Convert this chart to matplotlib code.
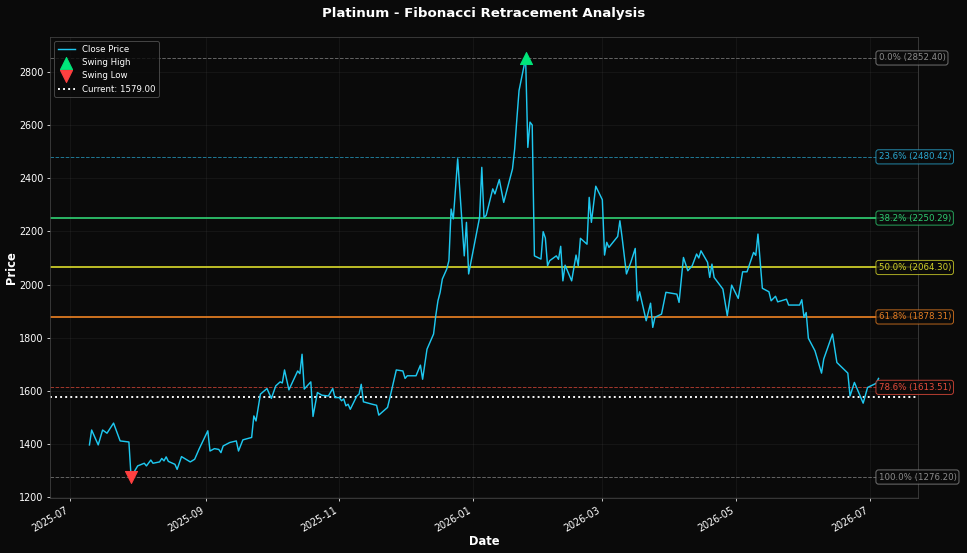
import matplotlib.pyplot as plt
import matplotlib.dates as mdates
import pandas as pd

# price path (vertices only)
dates = [
    "2025-07-10", "2025-07-11", "2025-07-14", "2025-07-16", "2025-07-18", "2025-07-21",
    "2025-07-24", "2025-07-28", "2025-07-29", "2025-08-01", "2025-08-04", "2025-08-05",
    "2025-08-07", "2025-08-08", "2025-08-11", "2025-08-12", "2025-08-13", "2025-08-14",
    "2025-08-15", "2025-08-18", "2025-08-19", "2025-08-21", "2025-08-22", "2025-08-25",
    "2025-08-27", "2025-08-29", "2025-09-02", "2025-09-03", "2025-09-05", "2025-09-07",
    "2025-09-08", "2025-09-09", "2025-09-12", "2025-09-15", "2025-09-16", "2025-09-18",
    "2025-09-22", "2025-09-23", "2025-09-24", "2025-09-26", "2025-09-29", "2025-10-01",
    "2025-10-03", "2025-10-05", "2025-10-06", "2025-10-07", "2025-10-09", "2025-10-12",
    "2025-10-13", "2025-10-14", "2025-10-15", "2025-10-16", "2025-10-19", "2025-10-20",
    "2025-10-22", "2025-10-24", "2025-10-27", "2025-10-29", "2025-10-30", "2025-11-01",
    "2025-11-02", "2025-11-03", "2025-11-04", "2025-11-05", "2025-11-06", "2025-11-09",
    "2025-11-10", "2025-11-11", "2025-11-12", "2025-11-16", "2025-11-18", "2025-11-19",
    "2025-11-23", "2025-11-24", "2025-11-27", "2025-11-30", "2025-12-01", "2025-12-02",
    "2025-12-06", "2025-12-08", "2025-12-09", "2025-12-11", "2025-12-14", "2025-12-15",
    "2025-12-16", "2025-12-17", "2025-12-18", "2025-12-20", "2025-12-21", "2025-12-22",
    "2025-12-23", "2025-12-25", "2025-12-28", "2025-12-29", "2025-12-30", "2026-01-04",
    "2026-01-05", "2026-01-06", "2026-01-07", "2026-01-10", "2026-01-11", "2026-01-13",
    "2026-01-15", "2026-01-19", "2026-01-20", "2026-01-21", "2026-01-22", "2026-01-25",
    "2026-01-26", "2026-01-27", "2026-01-28", "2026-01-29", "2026-02-01", "2026-02-02",
    "2026-02-03", "2026-02-04", "2026-02-05", "2026-02-08", "2026-02-09", "2026-02-10",
    "2026-02-11", "2026-02-12", "2026-02-15", "2026-02-17", "2026-02-18", "2026-02-19",
    "2026-02-22", "2026-02-23", "2026-02-24", "2026-02-26", "2026-03-01", "2026-03-02",
    "2026-03-03", "2026-03-04", "2026-03-08", "2026-03-09", "2026-03-10", "2026-03-12",
    "2026-03-14", "2026-03-16", "2026-03-17", "2026-03-18", "2026-03-21", "2026-03-23",
    "2026-03-24", "2026-03-25", "2026-03-28", "2026-03-30", "2026-04-04", "2026-04-05",
    "2026-04-07", "2026-04-09", "2026-04-11", "2026-04-13", "2026-04-14", "2026-04-15",
    "2026-04-18", "2026-04-19", "2026-04-20", "2026-04-21", "2026-04-25", "2026-04-27",
    "2026-04-29", "2026-05-02", "2026-05-04", "2026-05-06", "2026-05-09", "2026-05-10",
    "2026-05-11", "2026-05-13", "2026-05-16", "2026-05-17", "2026-05-19", "2026-05-20",
    "2026-05-24", "2026-05-25", "2026-05-30", "2026-05-31", "2026-06-01", "2026-06-02",
    "2026-06-03", "2026-06-06", "2026-06-09", "2026-06-10", "2026-06-14", "2026-06-16",
    "2026-06-21", "2026-06-22", "2026-06-24", "2026-06-28", "2026-06-30", "2026-07-04",
    "2026-07-05",
]
close = [
    1397, 1453, 1397, 1453, 1441, 1479,
    1412, 1408, 1276.2, 1318, 1328, 1318,
    1340, 1328, 1333, 1346, 1337, 1352,
    1335, 1324, 1305, 1353, 1348, 1333,
    1343, 1381, 1450, 1374, 1383, 1380,
    1368, 1393, 1406, 1412, 1374, 1416,
    1425, 1506, 1487, 1588, 1609, 1572,
    1619, 1634, 1630, 1679, 1604, 1657,
    1675, 1665, 1738, 1607, 1634, 1504,
    1594, 1584, 1581, 1609, 1575, 1575,
    1563, 1570, 1544, 1550, 1531, 1581,
    1588, 1625, 1559, 1550, 1546, 1509,
    1538, 1572, 1679, 1675, 1647, 1657,
    1657, 1697, 1644, 1757, 1814, 1883,
    1939, 1971, 2021, 2058, 2090, 2284,
    2247, 2473, 2108, 2234, 2040, 2253,
    2441, 2253, 2260, 2360, 2341, 2395,
    2309, 2435, 2510, 2623, 2730, 2852.4,
    2516, 2611, 2600, 2108, 2096, 2199,
    2175, 2071, 2090, 2108, 2095, 2144,
    2014, 2073, 2014, 2111, 2071, 2174,
    2152, 2328, 2234, 2370, 2319, 2111,
    2159, 2140, 2181, 2240, 2178, 2040,
    2084, 2136, 1939, 1973, 1864, 1930,
    1839, 1877, 1889, 1971, 1964, 1933,
    2102, 2052, 2071, 2115, 2100, 2127,
    2084, 2027, 2077, 2027, 1983, 1883,
    1998, 1948, 2048, 2048, 2121, 2110,
    2190, 1986, 1973, 1939, 1956, 1935,
    1945, 1923, 1923, 1943, 1877, 1895,
    1798, 1751, 1667, 1720, 1814, 1707,
    1667, 1581, 1632, 1554, 1613, 1629,
    1647,
]

swing_high = 2852.40
swing_low = 1276.20
current_price = 1579.00

fib_ratios = [0.0, 0.236, 0.382, 0.5, 0.618, 0.786, 1.0]
fib_colors = ['#8c8c8c', '#2aa9d2', '#2ecc71', '#d4d42a', '#e67e22', '#e74c3c', '#8c8c8c']
fib_styles = ['--', '--', '-', '-', '-', '--', '--']

df = pd.DataFrame({'date': pd.to_datetime(dates), 'close': close})

bg = '#0a0a0a'
fig, ax = plt.subplots(figsize=(967 / 69, 553 / 69), dpi=69)
fig.patch.set_facecolor(bg)
ax.set_facecolor(bg)

ax.plot(df['date'], df['close'], color='#1ec8f0', linewidth=1.5, label='Close Price', zorder=3)

hi_idx = df['close'].idxmax()
lo_idx = df['close'].idxmin()
ax.scatter(df['date'][hi_idx], swing_high, marker='^', s=160, color='#00e67a', label='Swing High', zorder=5)
ax.scatter(df['date'][lo_idx], swing_low, marker='v', s=160, color='#ff4040', label='Swing Low', zorder=5)

diff = swing_high - swing_low
last_date = df['date'].iloc[-1]
for r, c, ls in zip(fib_ratios, fib_colors, fib_styles):
    level = swing_high - r * diff
    if ls == '-':
        ax.axhline(level, color=c, linestyle=ls, linewidth=2, alpha=0.9)
    else:
        ax.axhline(level, color=c, linestyle=ls, linewidth=1, alpha=0.7)
    ax.text(last_date, level, f'{r*100:.1f}% ({level:.2f})', color=c, fontsize=9,
            va='center', ha='left',
            bbox=dict(boxstyle='round,pad=0.3', facecolor=bg, edgecolor=c, alpha=0.8))

ax.axhline(current_price, color='white', linestyle=':', linewidth=2,
           label=f'Current: {current_price:.2f}')

ax.set_title('Platinum - Fibonacci Retracement Analysis', color='white', fontsize=14,
             fontweight='bold', pad=21)
ax.set_xlabel('Date', color='white', fontsize=12, fontweight='bold', labelpad=2)
ax.set_ylabel('Price', color='white', fontsize=12, fontweight='bold', labelpad=1)
ax.tick_params(colors='white')
for s in ax.spines.values():
    s.set_color('#444444')
ax.grid(True, color='#555555', alpha=0.2)
ax.xaxis.set_major_formatter(mdates.DateFormatter('%Y-%m'))

leg = ax.legend(loc='upper left', facecolor=bg, edgecolor='#555555', fontsize=9)
for t in leg.get_texts():
    t.set_color('white')

fig.autofmt_xdate()
fig.subplots_adjust(left=0.0517, right=0.9493, top=0.9331, bottom=0.0995)
plt.savefig('out.png', facecolor=bg)
